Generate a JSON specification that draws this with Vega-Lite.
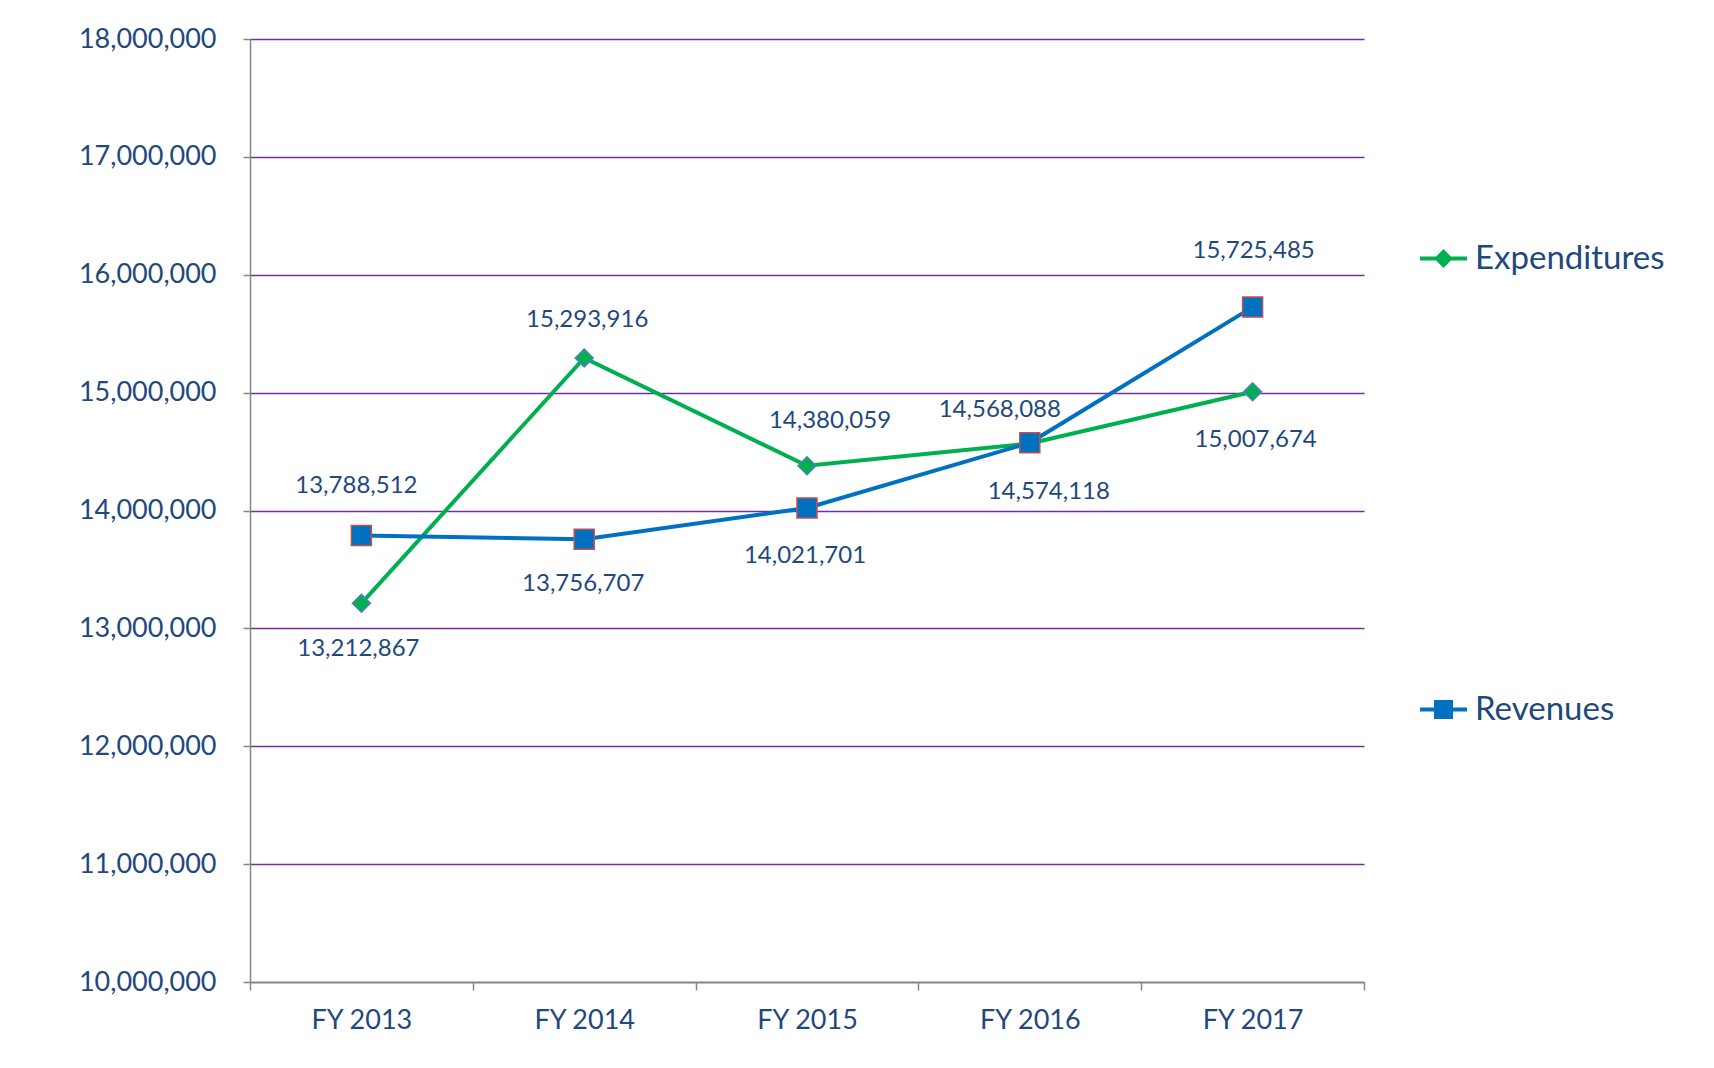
{
  "$schema": "https://vega.github.io/schema/vega-lite/v6.json",
  "width": 1114,
  "height": 943,
  "autosize": {"type": "none"},
  "padding": {"left": 250, "top": 39, "right": 350, "bottom": 86},
  "background": "white",
  "config": {
    "font": "Lato",
    "view": {"stroke": null},
    "axis": {"labelFont": "Lato", "labelColor": "#1F497D", "domainColor": "#868686", "tickColor": "#868686", "domainWidth": 1.5, "tickWidth": 1.5, "title": null}
  },
  "data": {
    "values": [
      {"year": "FY 2013", "series": "Expenditures", "value": 13212867},
      {"year": "FY 2014", "series": "Expenditures", "value": 15293916},
      {"year": "FY 2015", "series": "Expenditures", "value": 14380059},
      {"year": "FY 2016", "series": "Expenditures", "value": 14568088},
      {"year": "FY 2017", "series": "Expenditures", "value": 15007674},
      {"year": "FY 2013", "series": "Revenues", "value": 13788512},
      {"year": "FY 2014", "series": "Revenues", "value": 13756707},
      {"year": "FY 2015", "series": "Revenues", "value": 14021701},
      {"year": "FY 2016", "series": "Revenues", "value": 14574118},
      {"year": "FY 2017", "series": "Revenues", "value": 15725485}
    ]
  },
  "encoding": {
    "x": {
      "field": "year", "type": "ordinal",
      "scale": {"type": "band", "paddingInner": 0, "paddingOuter": 0},
      "axis": {"labelAngle": 0, "labelFontSize": 27, "labelPadding": 17, "tickSize": 8, "tickBand": "extent", "grid": false}
    },
    "y": {
      "field": "value", "type": "quantitative",
      "scale": {"domain": [10000000, 18000000], "nice": false, "zero": false},
      "axis": {
        "values": [10000000, 11000000, 12000000, 13000000, 14000000, 15000000, 16000000, 17000000, 18000000],
        "format": ",d", "labelFontSize": 27, "labelPadding": 27, "tickSize": 7,
        "grid": true, "gridColor": "#7030A0", "gridWidth": 1.5
      }
    }
  },
  "layer": [
    {
      "mark": {"type": "line", "strokeWidth": 4},
      "encoding": {
        "color": {
          "field": "series", "type": "nominal",
          "scale": {"domain": ["Expenditures", "Revenues"], "range": ["#00B050", "#0070C0"]},
          "legend": {
            "title": null, "orient": "none", "legendX": 1168, "legendY": 194,
            "direction": "vertical", "rowPadding": 408, "padding": 0,
            "labelFontSize": 33, "labelColor": "#1F497D", "labelFont": "Lato", "labelOffset": 6, "labelLimit": 0,
            "symbolSize": 2209,
            "encode": {
              "symbols": {
                "update": {
                  "shape": {"signal": "datum.value === 'Expenditures' ? 'M-1,0H1M0,-0.28L0.28,0L0,0.28L-0.28,0Z' : 'M-1,0H1M-0.32,-0.32H0.32V0.32H-0.32Z'"},
                  "fill": {"signal": "datum.value === 'Expenditures' ? '#00B050' : '#0070C0'"},
                  "stroke": {"signal": "datum.value === 'Expenditures' ? '#00B050' : '#0070C0'"},
                  "strokeWidth": {"value": 4},
                  "size": {"value": 2209},
                  "opacity": {"value": 1}
                }
              }
            }
          }
        }
      }
    },
    {
      "transform": [{"filter": "datum.series === 'Expenditures'"}],
      "mark": {"type": "point", "shape": "diamond", "filled": true, "fill": "#00B050", "stroke": "#4F81BD", "strokeWidth": 1.5, "size": 324, "opacity": 1}
    },
    {
      "transform": [{"filter": "datum.series === 'Revenues'"}],
      "mark": {"type": "point", "shape": "square", "filled": true, "fill": "#0070C0", "stroke": "#C0504D", "strokeWidth": 1.5, "size": 400, "opacity": 1}
    },
    {
      "transform": [{"filter": "datum.series === 'Expenditures' && datum.year === 'FY 2013'"}],
      "mark": {"type": "text", "fontSize": 24, "color": "#1F497D", "baseline": "middle", "dy": 46, "dx": -3},
      "encoding": {"text": {"field": "value", "format": ",d"}}
    },
    {
      "transform": [{"filter": "datum.series === 'Expenditures' && datum.year === 'FY 2014'"}],
      "mark": {"type": "text", "fontSize": 24, "color": "#1F497D", "baseline": "middle", "dy": -38, "dx": 3},
      "encoding": {"text": {"field": "value", "format": ",d"}}
    },
    {
      "transform": [{"filter": "datum.series === 'Expenditures' && datum.year === 'FY 2015'"}],
      "mark": {"type": "text", "fontSize": 24, "color": "#1F497D", "baseline": "middle", "dy": -45, "dx": 23},
      "encoding": {"text": {"field": "value", "format": ",d"}}
    },
    {
      "transform": [{"filter": "datum.series === 'Expenditures' && datum.year === 'FY 2016'"}],
      "mark": {"type": "text", "fontSize": 24, "color": "#1F497D", "baseline": "middle", "dy": -34, "dx": -30},
      "encoding": {"text": {"field": "value", "format": ",d"}}
    },
    {
      "transform": [{"filter": "datum.series === 'Expenditures' && datum.year === 'FY 2017'"}],
      "mark": {"type": "text", "fontSize": 24, "color": "#1F497D", "baseline": "middle", "dy": 48, "dx": 3},
      "encoding": {"text": {"field": "value", "format": ",d"}}
    },
    {
      "transform": [{"filter": "datum.series === 'Revenues' && datum.year === 'FY 2013'"}],
      "mark": {"type": "text", "fontSize": 24, "color": "#1F497D", "baseline": "middle", "dy": -49, "dx": -5},
      "encoding": {"text": {"field": "value", "format": ",d"}}
    },
    {
      "transform": [{"filter": "datum.series === 'Revenues' && datum.year === 'FY 2014'"}],
      "mark": {"type": "text", "fontSize": 24, "color": "#1F497D", "baseline": "middle", "dy": 45, "dx": -1},
      "encoding": {"text": {"field": "value", "format": ",d"}}
    },
    {
      "transform": [{"filter": "datum.series === 'Revenues' && datum.year === 'FY 2015'"}],
      "mark": {"type": "text", "fontSize": 24, "color": "#1F497D", "baseline": "middle", "dy": 48, "dx": -2},
      "encoding": {"text": {"field": "value", "format": ",d"}}
    },
    {
      "transform": [{"filter": "datum.series === 'Revenues' && datum.year === 'FY 2016'"}],
      "mark": {"type": "text", "fontSize": 24, "color": "#1F497D", "baseline": "middle", "dy": 49, "dx": 19},
      "encoding": {"text": {"field": "value", "format": ",d"}}
    },
    {
      "transform": [{"filter": "datum.series === 'Revenues' && datum.year === 'FY 2017'"}],
      "mark": {"type": "text", "fontSize": 24, "color": "#1F497D", "baseline": "middle", "dy": -56, "dx": 1},
      "encoding": {"text": {"field": "value", "format": ",d"}}
    }
  ]
}
